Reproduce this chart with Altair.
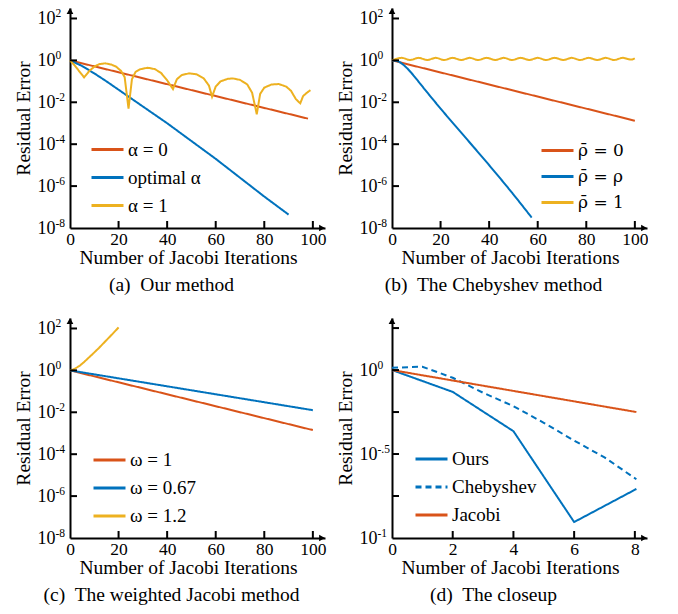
import altair as alt
import pandas as pd

FONT = "Liberation Serif"
RED = "#D95319"
BLUE = "#0072BD"
YEL = "#EDB120"

# ---------- data (values are log10 of residual error) ----------
# (a) Our method
a_alpha0_x = [0, 98]
a_alpha0_e = [0.0, -2.78]
a_opt_x = [0, 5, 10, 15, 20, 25, 30, 40, 50, 60, 70, 80, 90]
a_opt_e = [0.0, -0.27, -0.62, -1.0, -1.4, -1.8, -2.2, -3.0, -3.85, -4.7, -5.6, -6.5, -7.36]
a_alpha1_x = [0, 2, 4, 5.8, 8, 10, 12, 14.5, 17, 19, 21, 22.5, 24.1, 25.5, 27, 29, 32, 35,
              37.5, 40, 42.4, 44, 46, 49, 52, 55, 57.2, 58.5, 60, 62, 65, 67, 70, 73, 75,
              76.9, 78.3, 80, 83, 86, 89, 91, 93, 94.8, 96, 97.5, 99]
a_alpha1_e = [0.0, -0.25, -0.55, -0.81, -0.5, -0.3, -0.18, -0.14, -0.2, -0.3, -0.5, -0.8,
              -2.3, -0.9, -0.55, -0.42, -0.35, -0.42, -0.6, -0.95, -1.37, -0.9, -0.7, -0.62,
              -0.66, -0.85, -1.2, -1.73, -1.25, -1.0, -0.88, -0.86, -0.93, -1.15, -1.55,
              -2.57, -1.6, -1.3, -1.15, -1.13, -1.25, -1.45, -1.85, -2.05, -1.7, -1.55, -1.42]

# (b) The Chebyshev method
b_rho0_x = [0, 100]
b_rho0_e = [0.0, -2.88]
b_rho_x = [0, 2, 4, 6, 8, 10, 12, 15, 20, 30, 40, 50, 57.5]
b_rho_e = [0.0, -0.03, -0.15, -0.35, -0.6, -0.88, -1.17, -1.6, -2.3, -3.65, -5.0, -6.4, -7.5]
b_rho1_x = [0, 2, 4, 7.5, 11, 14.5, 18, 21.5, 25, 28.5, 32, 35.5, 39, 42.5, 46, 49.5, 53,
            56.5, 60, 63.5, 67, 70.5, 74, 77.5, 81, 84.5, 88, 91.5, 95, 98.5, 100]
b_rho1_e = [0.0, 0.08, 0.12, 0.02, 0.12, 0.02, 0.12, 0.02, 0.12, 0.02, 0.12, 0.02, 0.12,
            0.02, 0.12, 0.02, 0.12, 0.02, 0.12, 0.02, 0.12, 0.02, 0.12, 0.02, 0.12, 0.02,
            0.12, 0.02, 0.12, 0.04, 0.1]

# (c) The weighted Jacobi method
c_w1_x = [0, 100]
c_w1_e = [0.0, -2.85]
c_w067_x = [0, 100]
c_w067_e = [0.0, -1.9]
c_w12_x = [0, 1, 2, 4, 6, 9.5, 12, 15, 18, 20]
c_w12_e = [0.0, 0.03, 0.08, 0.22, 0.42, 0.8, 1.08, 1.44, 1.8, 2.05]

# (d) The closeup
d_ours_x = [0, 2, 4, 6, 8.05]
d_ours_e = [0.0, -0.13, -0.364, -0.905, -0.708]
d_cheb_x = [0, 1, 2, 3, 4, 5, 6, 7, 8.05]
d_cheb_e = [0.014, 0.02, -0.046, -0.135, -0.215, -0.314, -0.42, -0.52, -0.65]
d_jac_x = [0, 8.05]
d_jac_e = [0.0, -0.25]

# tick labels: base "10" with exponent text
std_label_e = [2, 0, -2, -4, -6, -8]
std_label_sup = ["2", "0", "-2", "-4", "-6", "-8"]
std_tick_e = [2, 0, -2, -4, -6]
d_label_e = [0, -0.5, -1]
d_label_sup = ["0", "-.5", "-1"]
d_tick_e = [0.25, 0, -0.25, -0.5, -0.75]
x_ticks_100 = [0, 20, 40, 60, 80, 100]
x_ticks_8 = [0, 2, 4, 6, 8]


def series_df(items):
    rows = []
    for name, xs, es in items:
        for x, e in zip(xs, es):
            rows.append({"x": x, "y": 10 ** e, "s": name})
    return pd.DataFrame(rows)


W = 255
H = 220
LBL_PAD = 15


def panel(items, colors, dashes, xdom, xticks, ydom_e, ytick_e, ylab_e, ylab_sup,
          caption, legx, legy, interp="linear", legfont=FONT, legsize=19):
    df = series_df(items)
    names = [it[0] for it in items]
    xscale = alt.Scale(domain=list(xdom), nice=False, zero=False)
    yscale = alt.Scale(type="log", domain=[10 ** ydom_e[0], 10 ** ydom_e[1]], nice=False)
    ax_common = dict(domainColor="black", domainWidth=2, ticks=False, grid=False,
                     labelFont=FONT, labelColor="black",
                     titleFont=FONT, titleFontSize=19.5, titleFontWeight="normal",
                     titleColor="black", labelOverlap=False)
    xaxis = alt.Axis(values=xticks, title="Number of Jacobi Iterations", labelPadding=2,
                     labelFontSize=17.5, titlePadding=1, labelFlush=False, titleX=118,
                     **ax_common)
    yaxis = alt.Axis(values=[10 ** e for e in ylab_e], labelExpr="'10'",
                     title="Residual Error", labelPadding=LBL_PAD, titlePadding=3,
                     labelFontSize=18, minExtent=34, maxExtent=34, **ax_common)
    legend = alt.Legend(title=None, orient="none", legendX=legx, legendY=legy,
                        symbolType="stroke", symbolSize=1024, symbolStrokeWidth=3,
                        labelFont=legfont, labelFontSize=legsize, labelColor="black",
                        rowPadding=-16.5, labelOffset=3, padding=0, labelLimit=300)
    lines = alt.Chart(df).mark_line(strokeWidth=2, interpolate=interp).encode(
        x=alt.X("x:Q", scale=xscale, axis=xaxis),
        y=alt.Y("y:Q", scale=yscale, axis=yaxis),
        color=alt.Color("s:N", scale=alt.Scale(domain=names, range=colors), legend=legend,
                        sort=names),
        strokeDash=alt.StrokeDash("s:N", scale=alt.Scale(domain=names, range=dashes),
                                  legend=legend, sort=names),
        order=alt.Order("x:Q"),
    )
    yt = pd.DataFrame({"y": [10 ** e for e in ytick_e]})
    yticks_l = alt.Chart(yt).mark_rule(color="black", strokeWidth=2).encode(
        y=alt.Y("y:Q", scale=yscale, axis=yaxis), x=alt.value(0), x2=alt.value(7))
    xt = pd.DataFrame({"x": [v for v in xticks if v != 0]})
    xticks_l = alt.Chart(xt).mark_rule(color="black", strokeWidth=2).encode(
        x=alt.X("x:Q", scale=xscale, axis=xaxis), y=alt.value(H), y2=alt.value(H - 7))
    ex = pd.DataFrame({"y": [10 ** e for e in ylab_e], "t": ylab_sup})
    expo = alt.Chart(ex).mark_text(align="left", baseline="middle", font=FONT, fontSize=11.5,
                                   color="black", dy=-4).encode(
        y=alt.Y("y:Q", scale=yscale, axis=yaxis), x=alt.value(-LBL_PAD + 0.5), text="t:N")
    one = pd.DataFrame({"k": [0]})
    arr_up = alt.Chart(one).mark_point(shape="triangle-up", filled=True, color="black",
                                       size=45, opacity=1).encode(
        x=alt.value(0), y=alt.value(3))
    arr_rt = alt.Chart(one).mark_point(shape="triangle-right", filled=True, color="black",
                                       size=45, opacity=1).encode(
        x=alt.value(W - 3), y=alt.value(H))
    return alt.layer(lines, yticks_l, xticks_l, expo, arr_up, arr_rt).properties(
        width=W, height=H,
        title=alt.TitleParams(caption, orient="bottom", anchor="middle", frame="group",
                              font=FONT, fontSize=19.5, fontWeight="normal", color="black",
                              offset=9, dx=-26))


solid = [[1, 0], [1, 0], [1, 0]]

pa = panel([("α = 0", a_alpha0_x, a_alpha0_e),
            ("optimal α", a_opt_x, a_opt_e),
            ("α = 1", a_alpha1_x, a_alpha1_e)],
           [RED, BLUE, YEL], solid, (0, 105), x_ticks_100, (-8, 2.5),
           std_tick_e, std_label_e, std_label_sup, "(a)\u00a0 Our method", 20, 124)
pb = panel([("ρ̄ = 0", b_rho0_x, b_rho0_e),
            ("ρ̄ = ρ", b_rho_x, b_rho_e),
            ("ρ̄ = 1", b_rho1_x, b_rho1_e)],
           [RED, BLUE, YEL], solid, (0, 105), x_ticks_100, (-8, 2.5),
           std_tick_e, std_label_e, std_label_sup, "(b)\u00a0 The Chebyshev method", 148, 125,
           interp="monotone", legfont="DejaVu Serif", legsize=17)
pc = panel([("ω = 1", c_w1_x, c_w1_e),
            ("ω = 0.67", c_w067_x, c_w067_e),
            ("ω = 1.2", c_w12_x, c_w12_e)],
           [RED, BLUE, YEL], solid, (0, 105), x_ticks_100, (-8, 2.5),
           std_tick_e, std_label_e, std_label_sup, "(c)\u00a0 The weighted Jacobi method", 22, 124.5)
pd_ = panel([("Ours", d_ours_x, d_ours_e),
             ("Chebyshev", d_cheb_x, d_cheb_e),
             ("Jacobi", d_jac_x, d_jac_e)],
            [BLUE, BLUE, RED], [[1, 0], [6, 4], [1, 0]], (0, 8.4), x_ticks_8,
            (-1, 0.31), d_tick_e, d_label_e, d_label_sup, "(d)\u00a0 The closeup", 22, 123.5)

IND = dict(color="independent", strokeDash="independent", x="independent", y="independent")
row1 = alt.hconcat(pa, pb, spacing=9).resolve_scale(**IND).resolve_legend(
    color="independent", strokeDash="independent")
row2 = alt.hconcat(pc, pd_, spacing=9).resolve_scale(**IND).resolve_legend(
    color="independent", strokeDash="independent")
chart = alt.vconcat(row1, row2, spacing=23).resolve_scale(**IND).resolve_legend(
    color="independent", strokeDash="independent").properties(
    padding={"left": 5, "top": 0, "right": 0, "bottom": 0}).configure_view(stroke=None)

chart.save("out.html", embed_options={"renderer": "svg", "actions": False})
